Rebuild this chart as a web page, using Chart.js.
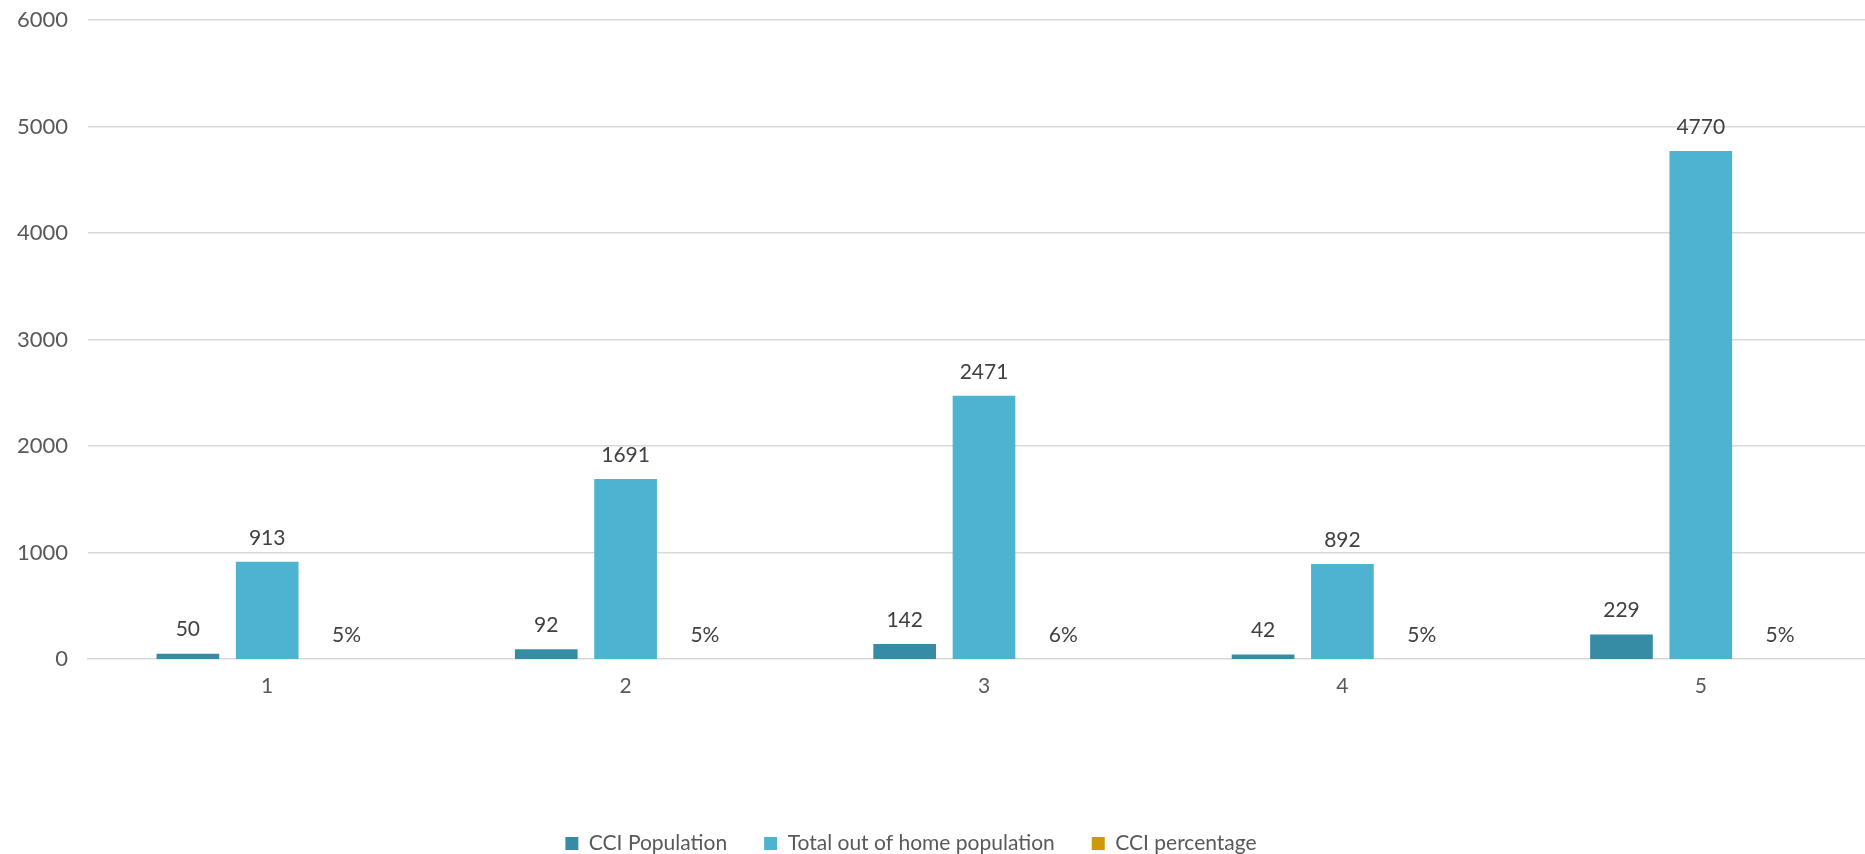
<!DOCTYPE html>
<html>
<head>
    <title>CCI population</title>
    <script src="https://cdn.jsdelivr.net/npm/chart.js"></script>
    <style>
        html, body { margin: 0; padding: 0; background: #fff; overflow: hidden; }
        #wrap { width: 1865px; height: 854px; overflow: hidden; }
        #box { width: 1900px; height: 854px; }
    </style>
</head>
<body>
    <div id="wrap"><div id="box"><canvas id="myChart"></canvas></div></div>
    <script>
        const categories = ['1', '2', '3', '4', '5'];
        const cciPopulation = [50, 92, 142, 42, 229];
        const totalOutOfHome = [913, 1691, 2471, 892, 4770];
        const cciPercentage = [0.05, 0.05, 0.06, 0.05, 0.05];
        const yTicks = [0, 1000, 2000, 3000, 4000, 5000, 6000];

        const fontFamily = 'Lato, "Open Sans", sans-serif';
        const gridColor = '#d9d9d9';

        // value labels above each bar, placed from the bar elements
        const valueLabels = {
            id: 'valueLabels',
            afterDatasetsDraw(chart) {
                const ctx = chart.ctx;
                ctx.save();
                ctx.font = '21px ' + fontFamily;
                ctx.fillStyle = '#404040';
                ctx.textAlign = 'center';
                ctx.textBaseline = 'middle';
                chart.data.datasets.forEach((ds, i) => {
                    const meta = chart.getDatasetMeta(i);
                    meta.data.forEach((bar, j) => {
                        const v = ds.data[j];
                        const text = ds.isPercent ? Math.round(v * 100) + '%' : String(v);
                        ctx.fillText(text, bar.x, bar.y - 24);
                    });
                });
                ctx.restore();
            }
        };

        // nudge the legend a little to the left of the canvas centre
        const legendShift = {
            id: 'legendShift',
            afterLayout(chart) {
                if (chart.legend) {
                    chart.legend.left -= 29;
                    chart.legend.right -= 29;
                }
            }
        };

        const ctx = document.getElementById('myChart').getContext('2d');
        new Chart(ctx, {
            type: 'bar',
            data: {
                labels: categories,
                datasets: [
                    { label: 'CCI Population', data: cciPopulation, backgroundColor: '#378ca5' },
                    { label: 'Total out of home population', data: totalOutOfHome, backgroundColor: '#4eb3d0' },
                    { label: 'CCI percentage', data: cciPercentage, backgroundColor: '#cc9a06', isPercent: true }
                ]
            },
            options: {
                responsive: true,
                maintainAspectRatio: false,
                animation: false,
                datasets: {
                    bar: { categoryPercentage: 0.664, barPercentage: 0.79 }
                },
                elements: {
                    bar: { inflateAmount: 0, borderWidth: 0 }
                },
                layout: { padding: { left: 0, right: 20, top: 20, bottom: -10 } },
                plugins: {
                    tooltip: { enabled: false },
                    legend: {
                        position: 'bottom',
                        labels: {
                            boxWidth: 13,
                            boxHeight: 13,
                            padding: 37,
                            color: '#595959',
                            font: { family: fontFamily, size: 21 }
                        }
                    }
                },
                scales: {
                    x: {
                        grid: { display: false },
                        // the zero line is drawn as the x axis border
                        border: { display: true, color: gridColor, width: 1.5 },
                        ticks: { color: '#595959', padding: 7, font: { family: fontFamily, size: 21 } },
                        afterFit(scale) { scale.height = 137; }
                    },
                    y: {
                        min: 0,
                        max: 6000,
                        afterBuildTicks(scale) { scale.ticks = yTicks.map(v => ({ value: v })); },
                        grid: {
                            color: gridColor,
                            lineWidth: c => (c.tick && c.tick.value === 0 ? 0 : 1.5),
                            drawTicks: false
                        },
                        border: { display: false },
                        ticks: {
                            color: '#595959',
                            padding: 20,
                            font: { family: fontFamily, size: 22 },
                            callback: v => String(v)
                        },
                        afterFit(scale) {
                            scale.width = 88;
                            scale.paddingTop = 0;
                            scale.paddingBottom = 0;
                        }
                    }
                }
            },
            plugins: [valueLabels, legendShift]
        });
    </script>
</body>
</html>
